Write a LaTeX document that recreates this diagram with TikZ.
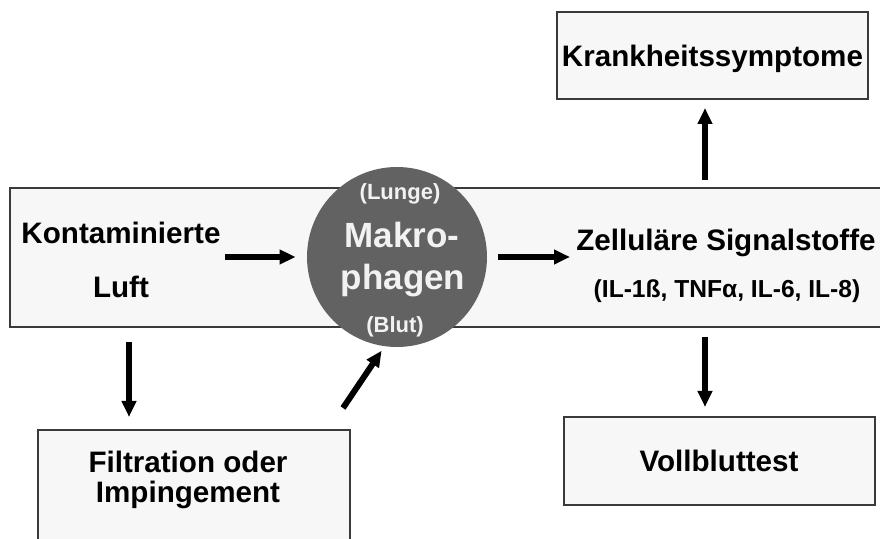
\documentclass[tikz,border=0pt]{standalone}
\usepackage{fontspec}
\setmainfont{Liberation Sans}
\usetikzlibrary{arrows.meta}
\definecolor{boxfill}{HTML}{F7F7F7}
\definecolor{boxline}{HTML}{3A3A3A}
\definecolor{cellfill}{HTML}{626262}
\definecolor{celltext}{HTML}{F2F2F2}
\begin{document}
\begin{tikzpicture}[x=0.5pt,y=-0.5pt,
  box/.style={draw=boxline, fill=boxfill, line width=0.8pt, rectangle, inner sep=0pt, outer sep=0pt},
  lbl/.style={font=\bfseries\fontsize{14.8}{17}\selectfont, anchor=base, inner sep=0pt},
  small/.style={font=\bfseries\fontsize{12.3}{14}\selectfont},
  celllbl/.style={lbl, text=celltext, font=\bfseries\fontsize{11}{13}\selectfont},
  cellbig/.style={lbl, text=celltext, font=\bfseries\fontsize{17.5}{20}\selectfont},
  arr/.style={line width=3pt, -{Triangle[length=8pt,width=7pt]}},
]
\useasboundingbox (0,0) rectangle (880,539);
\clip (0,0) rectangle (880,539);

% boxes
\node[box, minimum width=440pt, minimum height=69.5pt] (main) at (450,257.5) {};
\node[box, minimum width=155.5pt, minimum height=43.5pt] (krank) at (712.5,55.5) {};
\node[box, minimum width=155.5pt, minimum height=44pt] (voll) at (719.5,461) {};
\node[box, minimum width=156pt, minimum height=57.5pt] (filt) at (194,487.5) {};
\node[circle, fill=cellfill, minimum size=90pt, inner sep=0pt] (mak) at (397,257) {};

% labels
\node[lbl] (kont) at (121,244) {Kontaminierte};
\node[lbl] (luft) at (121,298) {Luft};
\node[lbl] (zell) at (726,251) {Zelluläre Signalstoffe};
\node[lbl, small] (il) at (727,298) {(IL-1ß, TNFα, IL-6, IL-8)};
\node[lbl] (kranklbl) at (712.5,67) {Krankheitssymptome};
\node[lbl] (volllbl) at (719,472) {Vollbluttest};
\node[lbl] (filt1) at (188,473) {Filtration oder};
\node[lbl] (filt2) at (188,503) {Impingement};
\node[celllbl] (lunge) at (400,200) {(Lunge)};
\node[cellbig] (makro) at (402,248) {Makro-};
\node[cellbig] (phagen) at (403,290) {phagen};
\node[celllbl] (blut) at (395,333) {(Blut)};

% connectors
\coordinate (a1s) at (225,257);
\coordinate (a2e) at (570,257);
\coordinate (upx) at (705,0);
\coordinate (leftx) at (129,0);
\coordinate (d1) at (343,408);
\draw[arr, shorten >=5.5pt] (a1s) -- (mak.west);
\draw[arr, shorten <=5.5pt] (mak.east) -- (a2e);
\draw[arr, shorten <=4pt, shorten >=4.5pt] (main.north -| upx) -- (krank.south -| upx);
\draw[arr, shorten <=5pt, shorten >=5pt] (main.south -| upx) -- (voll.north -| upx);
\draw[arr, shorten <=7.5pt, shorten >=6.5pt] (main.south -| leftx) -- (filt.north -| leftx);
\draw[arr, shorten >=2.5pt] (d1) -- (mak.262);
\end{tikzpicture}
\end{document}
